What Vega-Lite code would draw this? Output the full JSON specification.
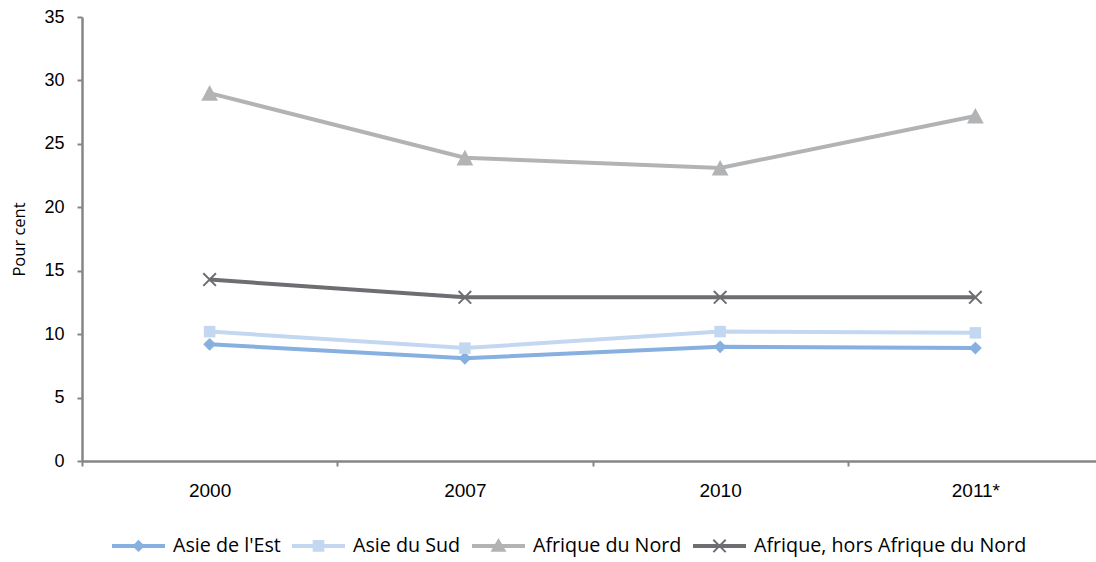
{
  "$schema": "https://vega.github.io/schema/vega-lite/v6.json",
  "width": 1014,
  "height": 444,
  "autosize": {"type": "none"},
  "padding": {"left": 82, "top": 17, "right": 0, "bottom": 101},
  "background": "white",
  "config": {"view": {"stroke": null}, "font": "Liberation Sans"},
  "data": {
    "values": [
      {"annee": "2000", "region": "Asie de l'Est", "valeur": 9.2},
      {"annee": "2007", "region": "Asie de l'Est", "valeur": 8.1},
      {"annee": "2010", "region": "Asie de l'Est", "valeur": 9.0},
      {"annee": "2011*", "region": "Asie de l'Est", "valeur": 8.9},
      {"annee": "2000", "region": "Asie du Sud", "valeur": 10.2},
      {"annee": "2007", "region": "Asie du Sud", "valeur": 8.9},
      {"annee": "2010", "region": "Asie du Sud", "valeur": 10.2},
      {"annee": "2011*", "region": "Asie du Sud", "valeur": 10.1},
      {"annee": "2000", "region": "Afrique du Nord", "valeur": 29.0},
      {"annee": "2007", "region": "Afrique du Nord", "valeur": 23.9},
      {"annee": "2010", "region": "Afrique du Nord", "valeur": 23.1},
      {"annee": "2011*", "region": "Afrique du Nord", "valeur": 27.2},
      {"annee": "2000", "region": "Afrique, hors Afrique du Nord", "valeur": 14.3},
      {"annee": "2007", "region": "Afrique, hors Afrique du Nord", "valeur": 12.9},
      {"annee": "2010", "region": "Afrique, hors Afrique du Nord", "valeur": 12.9},
      {"annee": "2011*", "region": "Afrique, hors Afrique du Nord", "valeur": 12.9}
    ]
  },
  "encoding": {
    "x": {
      "field": "annee",
      "type": "nominal",
      "sort": ["2000", "2007", "2010", "2011*"],
      "scale": {"type": "band", "range": [0, 1021], "paddingInner": 0, "paddingOuter": 0},
      "axis": {
        "title": null,
        "labelAngle": 0,
        "labelFont": "Liberation Sans",
        "labelFontSize": 19,
        "labelColor": "#000000",
        "labelPadding": 15,
        "domainColor": "#868686",
        "domainWidth": 2.5,
        "tickColor": "#868686",
        "tickWidth": 2,
        "tickSize": 5,
        "tickBand": "extent"
      }
    },
    "y": {
      "field": "valeur",
      "type": "quantitative",
      "scale": {"domain": [0, 35], "nice": false},
      "axis": {
        "title": "Pour cent",
        "titleFont": "Open Sans",
        "titleFontSize": 16.5,
        "titleFontWeight": "normal",
        "titleColor": "#000000",
        "titlePadding": 16,
        "values": [0, 5, 10, 15, 20, 25, 30, 35],
        "grid": false,
        "labelFont": "Liberation Sans",
        "labelFontSize": 18,
        "labelColor": "#000000",
        "labelPadding": 13,
        "domainColor": "#868686",
        "domainWidth": 2.5,
        "tickColor": "#868686",
        "tickWidth": 2,
        "tickSize": 5
      }
    },
    "color": {
      "field": "region",
      "type": "nominal",
      "sort": ["Asie de l'Est", "Asie du Sud", "Afrique du Nord", "Afrique, hors Afrique du Nord"],
      "scale": {
        "domain": ["Asie de l'Est", "Asie du Sud", "Afrique du Nord", "Afrique, hors Afrique du Nord"],
        "range": ["#85B0DF", "#C3D8F0", "#B1B3B5", "#6D6E71"]
      },
      "legend": {
        "orient": "none",
        "legendX": 30,
        "legendY": 502,
        "direction": "horizontal",
        "title": null,
        "symbolSize": 2809,
        "symbolStrokeWidth": 0,
        "labelFont": "Open Sans",
        "labelFontSize": 19.7,
        "labelColor": "#000000",
        "labelOffset": 8,
        "columnPadding": 11,
        "labelLimit": 400,
        "encode": {
          "symbols": {
            "update": {
              "shape": {"signal": "datum.index === 0 ? 'M-1,-0.075H1V0.075H-1Z M0,-0.23L0.23,0L0,0.23L-0.23,0Z' : datum.index === 1 ? 'M-1,-0.075H1V0.075H-1Z M-0.22,-0.22H0.22V0.22H-0.22Z' : datum.index === 2 ? 'M-1,-0.075H1V0.075H-1Z M0,-0.3L0.3,0.22H-0.3Z' : 'M-1,-0.075H1V0.075H-1Z M-0.26,-0.207L-0.207,-0.26L0.26,0.207L0.207,0.26Z M0.207,-0.26L0.26,-0.207L-0.207,0.26L-0.26,0.207Z'"},
              "fill": {"scale": "color", "field": "value"},
              "stroke": {"value": "transparent"},
              "strokeWidth": {"value": 0},
              "opacity": {"value": 1}
            }
          }
        }
      }
    }
  },
  "layer": [
    {
      "mark": {"type": "line", "strokeWidth": 4}
    },
    {
      "mark": {"type": "point", "filled": true, "opacity": 1, "size": 256, "strokeWidth": 0},
      "encoding": {
        "shape": {
          "condition": [
            {"test": "datum.region === 'Asie du Sud'", "value": "M-0.72,-0.72H0.72V0.72H-0.72Z"},
            {"test": "datum.region === 'Afrique du Nord'", "value": "M0,-1L1.05,0.95H-1.05Z"},
            {"test": "datum.region === 'Afrique, hors Afrique du Nord'", "value": "M-0.875,-0.7L-0.7,-0.875L0.875,0.7L0.7,0.875Z M0.7,-0.875L0.875,-0.7L-0.7,0.875L-0.875,0.7Z"}
          ],
          "value": "M0,-0.8L0.8,0L0,0.8L-0.8,0Z"
        }
      }
    }
  ]
}
